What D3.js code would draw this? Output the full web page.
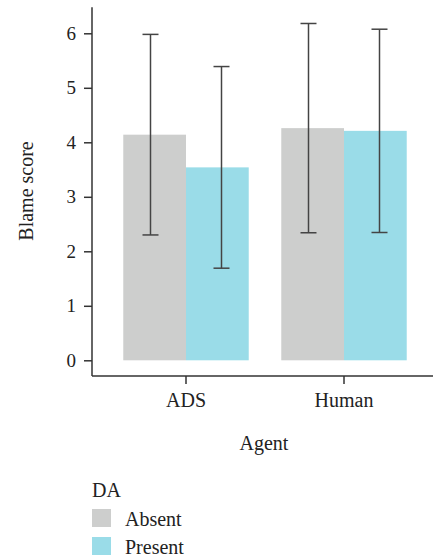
<!DOCTYPE html>
<html>
<head>
<meta charset="utf-8">
<script src="https://cdn.jsdelivr.net/npm/d3@7"></script>
<style>
  html, body { margin: 0; padding: 0; background: #fff; }
  svg { display: block; }
  text { font-family: "Liberation Serif", "Times New Roman", serif; fill: #222; }
</style>
</head>
<body>
<svg id="chart" width="433" height="560"></svg>
<script>
// Mean blame score by agent and DA condition, with ± SD whiskers
const agents = ["ADS", "Human"];
const conditions = ["Absent", "Present"];
const meanAbsent = [4.14, 4.26];
const meanPresent = [3.54, 4.21];
const sdAbsent = [1.84, 1.92];
const sdPresent = [1.85, 1.865];
const yTicks = [0, 1, 2, 3, 4, 5, 6];
const colors = ["#cdcecd", "#9adce8"];

const rows = [];
agents.forEach((a, i) => {
  rows.push({ agent: a, cond: "Absent", mean: meanAbsent[i], sd: sdAbsent[i] });
  rows.push({ agent: a, cond: "Present", mean: meanPresent[i], sd: sdPresent[i] });
});

const svg = d3.select("#chart");
const axisColor = "#333";

const y = d3.scaleLinear().domain([0, 6]).range([360.3, 33.3]);
const yLo = -0.29, yHi = 6.48;

const x0 = d3.scaleBand().domain(agents).range([107, 423])
  .paddingInner(0.206).paddingOuter(0.103);
const x1 = d3.scaleBand().domain(conditions).range([0, x0.bandwidth()]);
const xErr = d3.scalePoint().domain(conditions).range([-35.5, 35.5]);
const color = d3.scaleOrdinal().domain(conditions).range(colors);

const plotLeft = 92, plotRight = 433;

// bars
svg.append("g").selectAll("rect").data(rows).join("rect")
  .attr("x", d => x0(d.agent) + x1(d.cond))
  .attr("width", x1.bandwidth())
  .attr("y", d => y(d.mean))
  .attr("height", d => y(0) - y(d.mean))
  .attr("fill", d => color(d.cond));

// error bars
const eb = svg.append("g").attr("stroke", "#444").attr("stroke-width", 1.5).attr("fill", "none");
rows.forEach(d => {
  const cx = x0(d.agent) + x0.bandwidth() / 2 + xErr(d.cond);
  const hi = y(d.mean + d.sd), lo = y(d.mean - d.sd);
  eb.append("line").attr("x1", cx).attr("x2", cx).attr("y1", hi).attr("y2", lo);
  eb.append("line").attr("x1", cx - 8).attr("x2", cx + 8).attr("y1", hi).attr("y2", hi);
  eb.append("line").attr("x1", cx - 8).attr("x2", cx + 8).attr("y1", lo).attr("y2", lo);
});

// y axis
const yAxis = svg.append("g").attr("transform", `translate(${plotLeft},0)`)
  .call(d3.axisLeft(y).tickValues(yTicks).tickSize(8).tickPadding(8).tickFormat(d3.format("d")));
yAxis.select(".domain").remove();
yAxis.append("line").attr("x1", 0).attr("x2", 0).attr("y1", y(yHi)).attr("y2", y(yLo))
  .attr("stroke", axisColor).attr("stroke-width", 1.5);
yAxis.selectAll(".tick line").attr("stroke", axisColor).attr("stroke-width", 1.5);
yAxis.selectAll(".tick text").attr("font-size", 19).attr("fill", "#222")
  .attr("font-family", "Liberation Serif, serif");

// x axis
const xAxis = svg.append("g").attr("transform", `translate(0,${y(yLo)})`)
  .call(d3.axisBottom(x0).tickSize(8).tickPadding(8.5));
xAxis.select(".domain").remove();
xAxis.append("line").attr("x1", plotLeft).attr("x2", plotRight).attr("y1", 0).attr("y2", 0)
  .attr("stroke", axisColor).attr("stroke-width", 1.5);
xAxis.selectAll(".tick line").attr("stroke", axisColor).attr("stroke-width", 1.5);
xAxis.selectAll(".tick text").attr("font-size", 20).attr("fill", "#222")
  .attr("font-family", "Liberation Serif, serif");

// axis titles
svg.append("text").attr("x", 264).attr("y", 450).attr("text-anchor", "middle")
  .attr("font-size", 20).text("Agent");
svg.append("text").attr("transform", "translate(33,191) rotate(-90)")
  .attr("text-anchor", "middle").attr("font-size", 20).text("Blame score");

// legend
const lg = svg.append("g");
lg.append("text").attr("x", 92).attr("y", 496.5).attr("font-size", 20).text("DA");
conditions.forEach((c, i) => {
  lg.append("rect").attr("x", 92).attr("y", 509 + i * 28).attr("width", 19).attr("height", 18)
    .attr("fill", color(c));
  lg.append("text").attr("x", 125).attr("y", 526 + i * 28).attr("font-size", 20).text(c);
});
</script>
</body>
</html>
